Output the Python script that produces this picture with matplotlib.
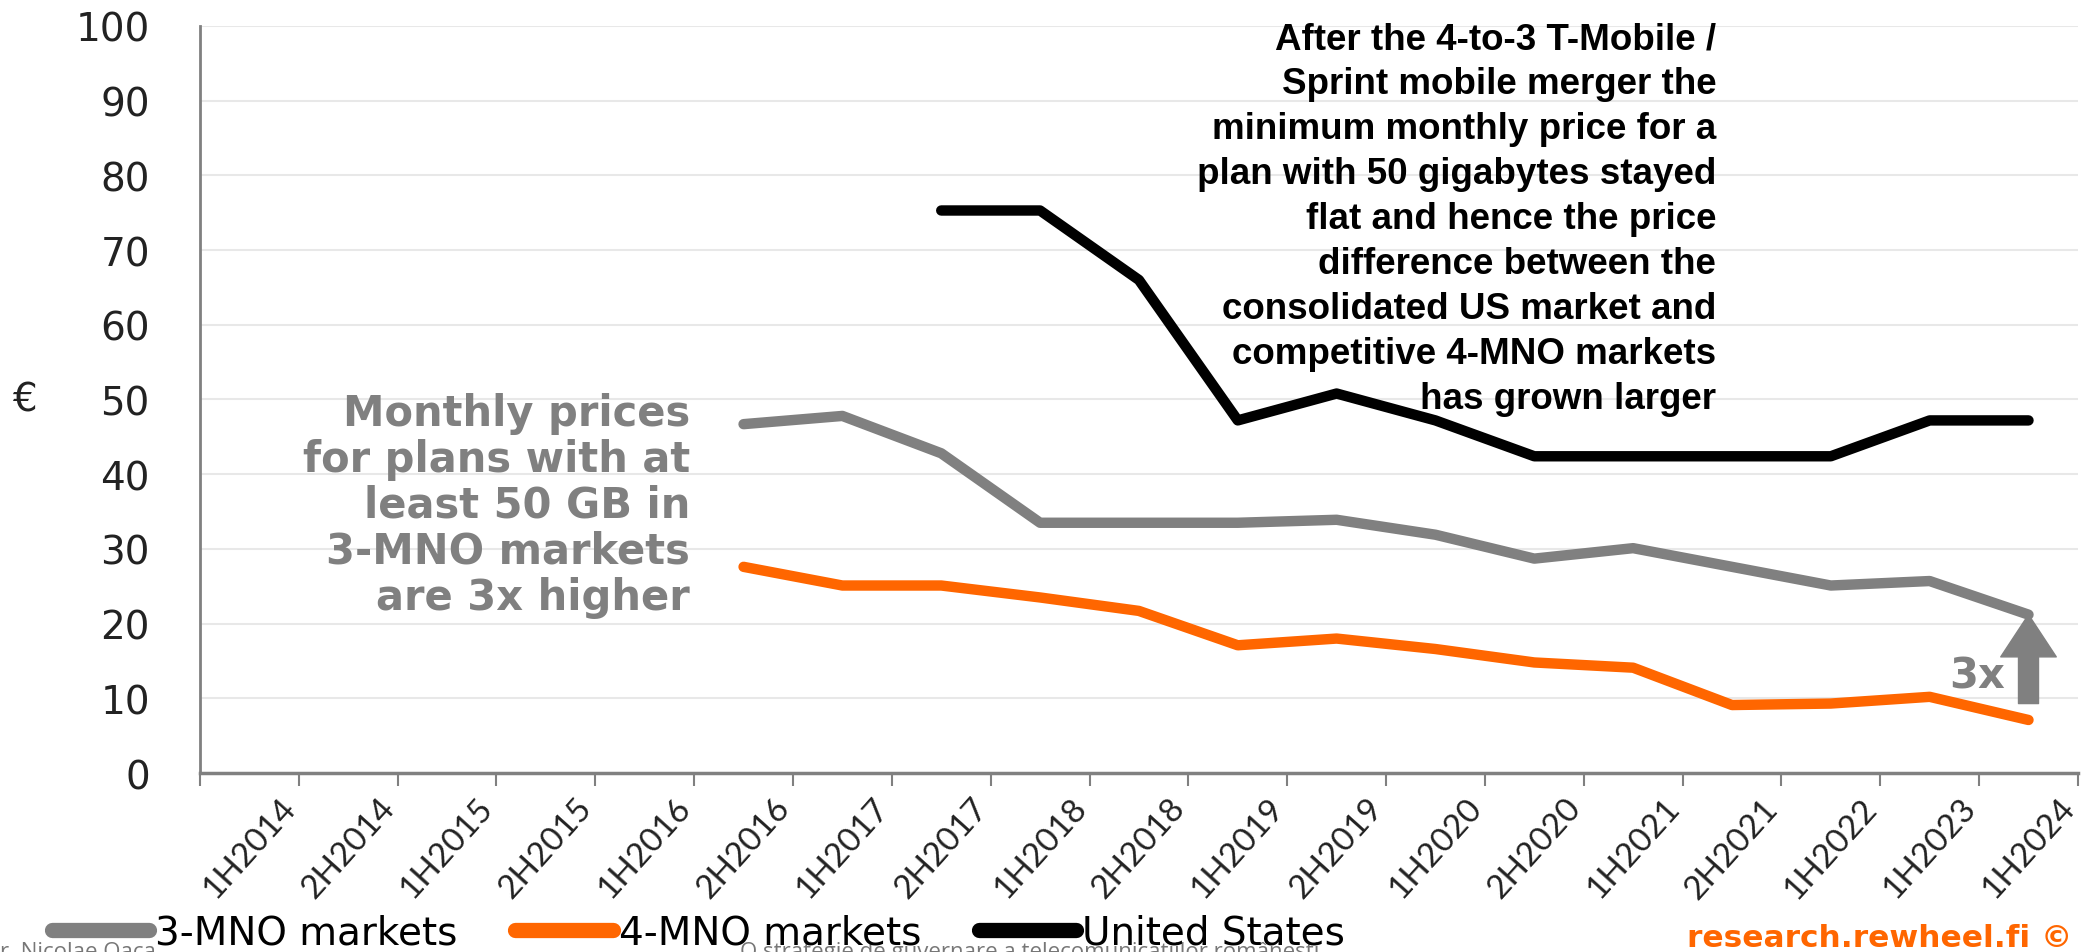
import matplotlib
matplotlib.use("Agg")
import matplotlib.pyplot as plt
import numpy as np

periods = ["1H2014", "2H2014", "1H2015", "2H2015", "1H2016", "2H2016", "1H2017",
           "2H2017", "1H2018", "2H2018", "1H2019", "2H2019", "1H2020", "2H2020",
           "1H2021", "2H2021", "1H2022", "1H2023", "1H2024"]
nan = np.nan
mno3 = [nan, nan, nan, nan, nan, 46.7, 47.8, 42.8, 33.5, 33.5, 33.5, 33.9,
        31.9, 28.7, 30.1, 27.6, 25.1, 25.7, 21.2]
mno4 = [nan, nan, nan, nan, nan, 27.6, 25.1, 25.1, 23.5, 21.7, 17.1, 18.0,
        16.6, 14.8, 14.1, 9.1, 9.3, 10.2, 7.1]
us = [nan, nan, nan, nan, nan, nan, nan, 75.3, 75.3, 66.0, 47.2, 50.8,
      47.2, 42.4, 42.4, 42.4, 42.4, 47.2, 47.2]

GREY = "#808080"
ORANGE = "#FF6600"

fig = plt.figure(figsize=(20.89, 9.53), dpi=100)
ax = fig.add_axes([0.0957, 0.1878, 0.899, 0.7839])

x = np.arange(len(periods))
l1, = ax.plot(x, mno3, color=GREY, lw=7.5, solid_capstyle="round", label="3-MNO markets")
l2, = ax.plot(x, mno4, color=ORANGE, lw=7.5, solid_capstyle="round", label="4-MNO markets")
l3, = ax.plot(x, us, color="black", lw=7.5, solid_capstyle="round", label="United States")

ax.set_xlim(-0.5, len(periods) - 0.5)
ax.set_ylim(0, 100)
ax.set_yticks(range(0, 101, 10))
ax.tick_params(axis="y", length=0, pad=36, labelsize=28, labelcolor="#222222")
for t in ax.get_yticklabels():
    t.set_family("DejaVu Sans")
ax.grid(axis="y", color="#E8E8E8", lw=1.5)
ax.set_axisbelow(True)

# ticks between categories, labels on the centres
ax.set_xticks(np.arange(-0.5, len(periods), 1.0))
ax.set_xticklabels([])
ax.tick_params(axis="x", which="major", length=9, width=1.5, color=GREY, direction="out")
ax.set_xticks(x, minor=True)
ax.set_xticklabels(periods, minor=True, rotation=48, ha="center",
                   family="Lato", fontsize=24, color="#222222")
ax.tick_params(axis="x", which="minor", length=0, pad=14)

for s in ["top", "right"]:
    ax.spines[s].set_visible(False)
ax.spines["left"].set_color(GREY)
ax.spines["left"].set_linewidth(2)
ax.spines["bottom"].set_color(GREY)
ax.spines["bottom"].set_linewidth(2.5)

fig.text(0.006, 0.58, "€", fontsize=28, va="center", color="#222222")

ax.text(4.46, 35.9, "Monthly prices\nfor plans with at\nleast 50 GB in\n3-MNO markets\nare 3x higher",
        ha="right", va="center", multialignment="right", color=GREY,
        family="DejaVu Sans", fontweight="bold", fontsize=30, linespacing=1.12)

ax.text(14.84, 74.2, "After the 4-to-3 T-Mobile /\nSprint mobile merger the\n"
        "minimum monthly price for a\nplan with 50 gigabytes stayed\n"
        "flat and hence the price\ndifference between the\n"
        "consolidated US market and\ncompetitive 4-MNO markets\nhas grown larger",
        ha="right", va="center", multialignment="right", color="black",
        family="Liberation Sans", fontweight="bold", fontsize=26.5, linespacing=1.37)

ax.annotate("", xy=(18, mno3[-1]), xytext=(18, 9.3),
            arrowprops=dict(arrowstyle="simple,head_width=1.25,head_length=0.95,tail_width=0.45",
                            color=GREY, shrinkA=0, shrinkB=0, mutation_scale=32))
ax.text(17.76, 13.0, "3x", ha="right", va="center", color=GREY,
        family="DejaVu Sans", fontweight="bold", fontsize=30)

fig.legend(handles=[l1, l2, l3], loc="center left", bbox_to_anchor=(0.008, 0.02),
           ncol=3, frameon=False, handlelength=2.5, handletextpad=0.15, columnspacing=1.5,
           prop={"family": "DejaVu Sans", "size": 28})
for h in fig.legends[0].legend_handles:
    h.set_linewidth(11)

fig.text(0.992, 0.015, "research.rewheel.fi ©", ha="right", va="center", color=ORANGE,
         family="DejaVu Sans", fontweight="bold", fontsize=22.5)

# overlay captions cut at the bottom edge
fig.text(0.0, 0.012, "r. Nicolae Oaca", ha="left", va="top", color="#777777",
         family="Open Sans", fontsize=16)
fig.text(0.354, 0.012, "O strategie de guvernare a telecomunicațiilor românești",
         ha="left", va="top", color="#777777", family="Open Sans", fontsize=16)

fig.savefig("out.png", dpi=100)
